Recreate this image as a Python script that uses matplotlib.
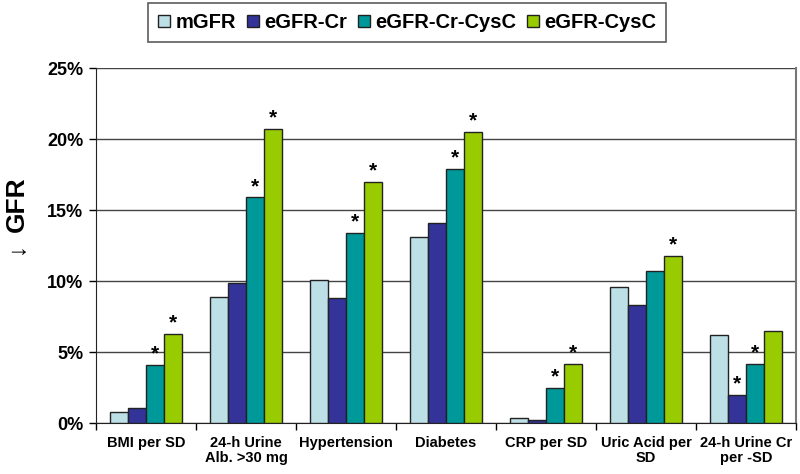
import matplotlib
matplotlib.use('Agg')
import matplotlib.pyplot as plt
import numpy as np

plt.rcParams['font.family'] = ['Liberation Sans', 'DejaVu Sans']

categories = ['BMI per SD', '24-h Urine\nAlb. >30 mg', 'Hypertension', 'Diabetes',
              'CRP per SD', 'Uric Acid per\nSD', '24-h Urine Cr\nper -SD']
series = ['mGFR', 'eGFR-Cr', 'eGFR-Cr-CysC', 'eGFR-CysC']
mgfr = [0.8, 8.9, 10.1, 13.1, 0.4, 9.6, 6.2]
egfr_cr = [1.1, 9.9, 8.8, 14.1, 0.25, 8.3, 2.0]
egfr_cr_cysc = [4.1, 15.9, 13.4, 17.9, 2.5, 10.7, 4.2]
egfr_cysc = [6.3, 20.7, 17.0, 20.5, 4.2, 11.8, 6.5]
# significance stars per series (1 = star)
star_mgfr = [0, 0, 0, 0, 0, 0, 0]
star_cr = [0, 0, 0, 0, 0, 0, 1]
star_crcysc = [1, 1, 1, 1, 1, 0, 1]
star_cysc = [1, 1, 1, 1, 1, 1, 0]

colors = ['#BDE0E6', '#333399', '#009999', '#99CC00']
values = [mgfr, egfr_cr, egfr_cr_cysc, egfr_cysc]
stars = [star_mgfr, star_cr, star_crcysc, star_cysc]

fig = plt.figure(figsize=(8, 4.74), dpi=100)
ax = fig.add_axes([0.12, 0.107, 0.875, 0.7495])

x = np.arange(len(categories))
w = 0.182
offsets = (np.arange(4) - 1.5) * w
for i in range(4):
    bars = ax.bar(x + offsets[i], values[i], w, color=colors[i], edgecolor='#222222',
                  linewidth=1.0, label=series[i], zorder=3)
    for j, b in enumerate(bars):
        if stars[i][j]:
            ax.text(b.get_x() + w / 2, b.get_height() + 0.1, '*', ha='center', va='bottom',
                    fontsize=15, fontweight='bold', zorder=4)

ax.set_xlim(-0.5, len(categories) - 0.5)
ax.set_ylim(0, 25)
ax.set_yticks(np.arange(0, 26, 5))
ax.set_yticklabels([f'{v}%' for v in range(0, 26, 5)], fontsize=13, fontweight='bold')
ax.yaxis.grid(True, color='#444444', linewidth=1.0, zorder=0)
ax.tick_params(axis='y', length=5, width=1, direction='out', pad=4)

ax.set_xticks(x)
ax.set_xticklabels(categories, fontsize=10.5, fontweight='bold', linespacing=1.15)
ax.set_xticks(np.arange(-0.5, len(categories)), minor=True)
ax.tick_params(axis='x', which='major', length=0, pad=9)
ax.tick_params(axis='x', which='minor', length=5, width=1, direction='out')

ax.spines['top'].set_visible(False)
ax.spines['right'].set_color('#777777')
ax.spines['right'].set_linewidth(1.5)
ax.spines['left'].set_color('#222222')
ax.spines['bottom'].set_color('#222222')

fig.text(0.021, 0.51, 'GFR', rotation=90, ha='center', va='bottom',
         fontsize=19, fontweight='bold')
fig.text(0.021, 0.49, '\u2193', rotation=90, ha='center', va='top', fontsize=17)

leg = fig.legend(loc='upper center', bbox_to_anchor=(0.509, 1.0), ncol=4, frameon=True,
                 fancybox=False, edgecolor='#333333', handlelength=0.6, handleheight=0.6,
                 handletextpad=0.25, columnspacing=0.55, borderpad=0.5, borderaxespad=0.15,
                 prop={'size': 14.5, 'weight': 'bold'})
leg.get_frame().set_linewidth(1.2)

fig.savefig('out.png', dpi=100)
